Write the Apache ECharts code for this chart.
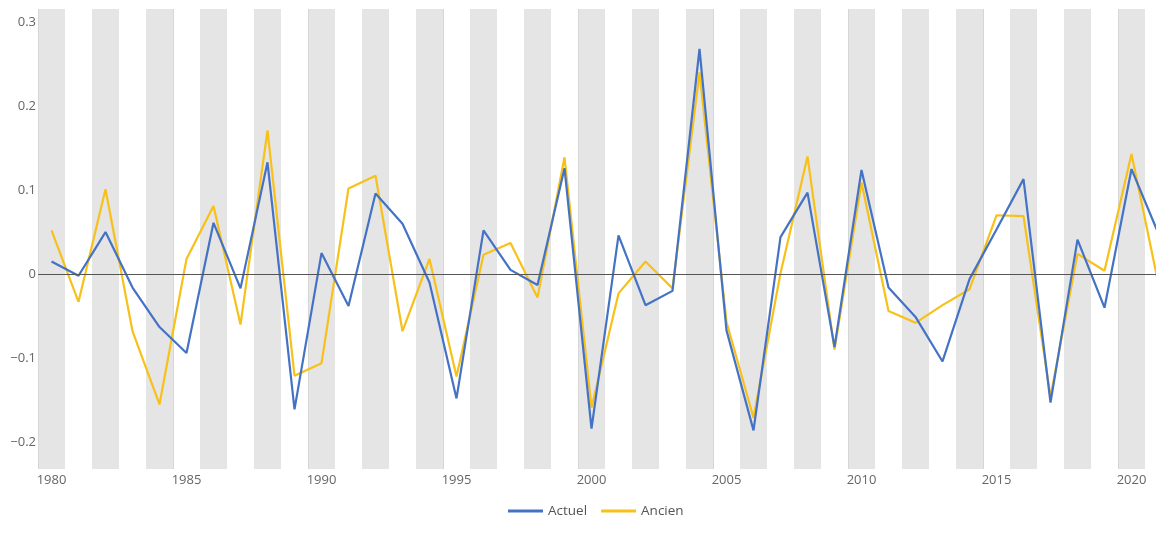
<!DOCTYPE html>
<html>
<head>
<meta charset="utf-8">
<script src="https://cdn.jsdelivr.net/npm/echarts@6/dist/echarts.min.js"></script>
<style>
html,body{margin:0;padding:0;background:#fff;overflow:hidden;width:1156px;height:536px;}
#chart{width:1172px;height:536px;}
</style>
</head>
<body>
<div id="chart"></div>
<script>
var years = [1980,1981,1982,1983,1984,1985,1986,1987,1988,1989,1990,1991,1992,1993,1994,1995,1996,1997,1998,1999,2000,2001,2002,2003,2004,2005,2006,2007,2008,2009,2010,2011,2012,2013,2014,2015,2016,2017,2018,2019,2020,2021];
var actuel = [0.015,-0.002,0.050,-0.016,-0.063,-0.094,0.061,-0.017,0.133,-0.161,0.025,-0.038,0.096,0.060,-0.010,-0.148,0.052,0.005,-0.013,0.126,-0.184,0.046,-0.037,-0.020,0.268,-0.067,-0.186,0.044,0.097,-0.087,0.124,-0.016,-0.051,-0.104,-0.006,0.053,0.113,-0.153,0.041,-0.040,0.125,0.048];
var ancien = [0.052,-0.033,0.101,-0.068,-0.155,0.018,0.081,-0.060,0.171,-0.121,-0.106,0.102,0.117,-0.068,0.018,-0.122,0.023,0.037,-0.028,0.139,-0.159,-0.023,0.015,-0.017,0.240,-0.057,-0.171,0.001,0.140,-0.090,0.109,-0.044,-0.058,-0.037,-0.018,0.070,0.069,-0.146,0.024,0.004,0.143,-0.012];
var seriesNames = ['Actuel','Ancien'];

var chart = echarts.init(document.getElementById('chart'));
chart.setOption({
  animation: false,
  backgroundColor: '#ffffff',
  textStyle: { fontFamily: '"Open Sans", sans-serif' },
  grid: { left: 38, top: 9, bottom: 67, right: 0, containLabel: false },
  legend: {
    data: seriesNames,
    left: 508,
    top: 504,
    padding: 0,
    icon: 'rect',
    itemWidth: 35,
    itemHeight: 3,
    itemGap: 14,
    textStyle: { color: '#555', fontSize: 13.5, fontFamily: '"Open Sans", sans-serif' }
  },
  xAxis: {
    type: 'category',
    data: years,
    boundaryGap: true,
    axisLine: { show: false },
    axisTick: { show: false },
    axisLabel: { interval: 4, color: '#666', fontSize: 13, margin: 5 },
    splitArea: { show: true, interval: 0, areaStyle: { color: ['#e5e5e5', '#ffffff'] } },
    splitLine: { show: true, interval: 4, lineStyle: { color: '#d6d6d6', width: 1 } }
  },
  yAxis: {
    type: 'value',
    min: -0.232,
    max: 0.3155,
    splitNumber: 5,
    axisLine: { show: false },
    axisTick: { show: false },
    axisLabel: {
      showMinLabel: false,
      showMaxLabel: false,
      color: '#666',
      fontSize: 13,
      margin: 2,
      formatter: function (v) { return String(+v.toFixed(2)).replace('-', '\u2212'); }
    },
    splitLine: { show: true, showMinLine: false, showMaxLine: false, lineStyle: { color: '#e2e2e2', width: 1 } }
  },
  series: [
    {
      name: seriesNames[0],
      type: 'line',
      data: actuel,
      symbol: 'none',
      lineStyle: { color: '#4472C4', width: 2.2 },
      itemStyle: { color: '#4472C4' },
      z: 3,
      markLine: {
        silent: true,
        symbol: 'none',
        label: { show: false },
        lineStyle: { color: '#555555', width: 1, type: 'solid' },
        data: [{ yAxis: 0 }]
      }
    },
    {
      name: seriesNames[1],
      type: 'line',
      data: ancien,
      symbol: 'none',
      lineStyle: { color: '#F7C11A', width: 2.2 },
      itemStyle: { color: '#F7C11A' },
      z: 2
    }
  ]
});
</script>
</body>
</html>
